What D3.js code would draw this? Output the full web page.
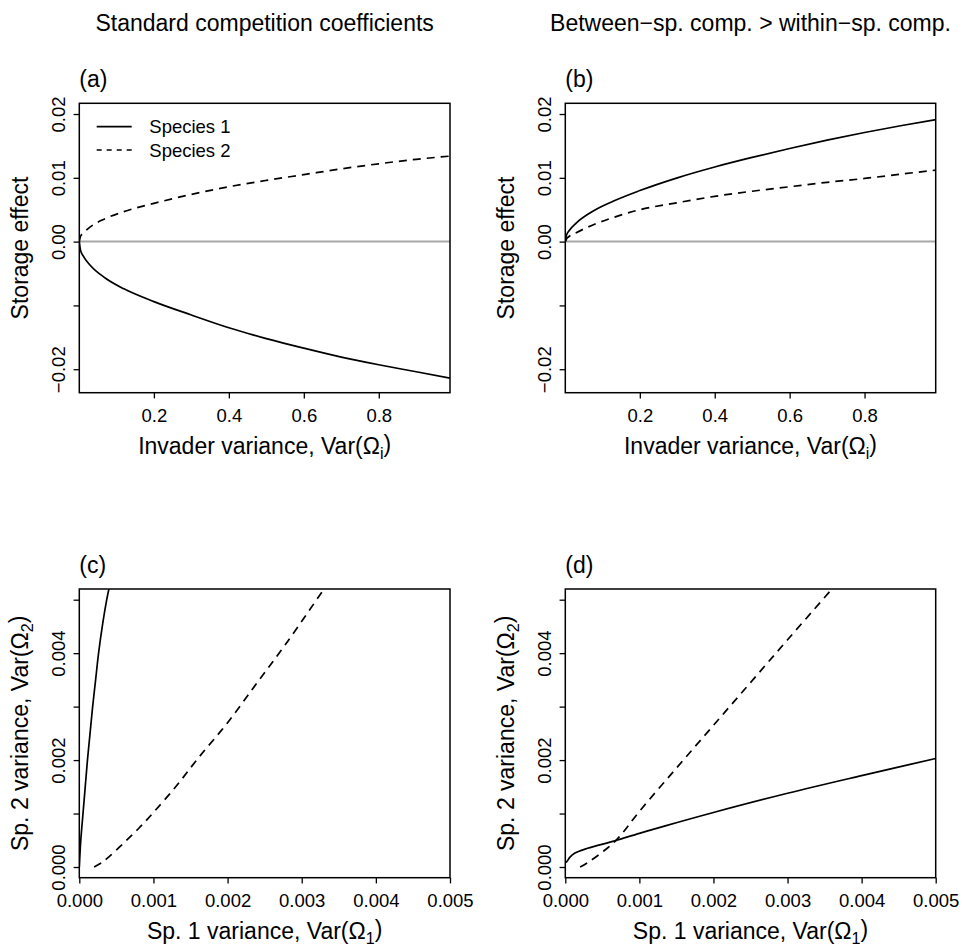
<!DOCTYPE html>
<html>
<head>
<meta charset="utf-8">
<script src="https://cdn.jsdelivr.net/npm/d3@7"></script>
<style>
  body { margin: 0; background: #fff; }
  text { font-family: "Liberation Sans", Arial, Helvetica, sans-serif; fill: #000; }
</style>
</head>
<body>
<svg id="fig" width="963" height="947"></svg>
<script>
// ---- data ----
// top row: storage effect vs invader variance
const invaderVar = [0.001, 0.004, 0.011, 0.03, 0.07, 0.12, 0.2, 0.3, 0.4, 0.5, 0.6, 0.7, 0.8, 0.9, 0.99];
const a_sp1 = [0, -0.0013, -0.0022, -0.0037, -0.0057, -0.0074, -0.0094, -0.0115, -0.0135, -0.0152, -0.0167, -0.0181, -0.0193, -0.0204, -0.0214];
const a_sp2 = [0, 0.0008, 0.0013, 0.0023, 0.0036, 0.0047, 0.0060, 0.0074, 0.0086, 0.0096, 0.0105, 0.0114, 0.0122, 0.0129, 0.0134];
const b_sp1 = [0, 0.0010, 0.0017, 0.0029, 0.0046, 0.0061, 0.0080, 0.0100, 0.0117, 0.0132, 0.0146, 0.0159, 0.0171, 0.0182, 0.0191];
const b_sp2 = [0, 0.0004, 0.0008, 0.0014, 0.0025, 0.0036, 0.0050, 0.0061, 0.0071, 0.0079, 0.0086, 0.0093, 0.0099, 0.0106, 0.0112];

// bottom row: sp.2 variance vs sp.1 variance
const c_sp1_x = [0, 0.00002, 0.00005, 0.00008, 0.00011, 0.000145, 0.00018, 0.00022, 0.00026, 0.00031, 0.00037, 0.00043];
const c_sp1_y = [0, 0.0005, 0.001, 0.0015, 0.002, 0.0025, 0.003, 0.0035, 0.004, 0.0045, 0.005, 0.0054];
const c_sp2_x = [0.0002, 0.0003, 0.0004, 0.0006, 0.0008, 0.001, 0.0013, 0.0016, 0.002, 0.0024, 0.0028, 0.0033];
const c_sp2_y = [0, 0.00008, 0.00019, 0.00045, 0.00072, 0.00102, 0.0015, 0.00203, 0.0027, 0.00345, 0.0042, 0.0052];
const d_sp1_x = [0, 0.00002, 0.00006, 0.00013, 0.0003, 0.00067, 0.001, 0.00135, 0.002, 0.003, 0.004, 0.005];
const d_sp1_y = [0.00008, 0.0001, 0.00018, 0.00026, 0.00035, 0.00049, 0.00063, 0.00077, 0.00102, 0.00138, 0.00171, 0.00203];
const d_sp2_x = [0.0002, 0.0003, 0.0005, 0.0007, 0.001, 0.0015, 0.002, 0.0025, 0.003, 0.0036];
const d_sp2_y = [0, 0.00008, 0.00028, 0.00052, 0.00104, 0.00185, 0.00265, 0.00345, 0.00425, 0.0052];

// ticks
const storageTicks = [-0.02, -0.01, 0, 0.01, 0.02];
const storageLabels = ["\u22120.02", "", "0.00", "0.01", "0.02"];
const invaderTicks = [0.2, 0.4, 0.6, 0.8];
const invaderLabels = ["0.2", "0.4", "0.6", "0.8"];
const varTicks = [0, 0.001, 0.002, 0.003, 0.004, 0.005];
const varLabelsX = ["0.000", "0.001", "0.002", "0.003", "0.004", "0.005"];
const varLabelsY = ["0.000", "", "0.002", "", "0.004", ""];

const colTitles = ["Standard competition coefficients", "Between\u2212sp. comp. > within\u2212sp. comp."];
const legendNames = ["Species 1", "Species 2"];

const svg = d3.select("#fig");
const tickFont = 18.5, labFont = 23;

const zip = (xs, ys) => xs.map((x, i) => [x, ys[i]]);

const panels = [
  { tag: "(a)", l: 79.3, t: 103.3, r: 450, b: 392.7, type: "storage", s1: zip(invaderVar, a_sp1), s2: zip(invaderVar, a_sp2), legend: true },
  { tag: "(b)", l: 565.3, t: 103.3, r: 935.7, b: 392.7, type: "storage", s1: zip(invaderVar, b_sp1), s2: zip(invaderVar, b_sp2) },
  { tag: "(c)", l: 79.3, t: 589, r: 450, b: 877.7, type: "var", s1: zip(c_sp1_x, c_sp1_y), s2: zip(c_sp2_x, c_sp2_y) },
  { tag: "(d)", l: 565.3, t: 589, r: 935.7, b: 877.7, type: "var", s1: zip(d_sp1_x, d_sp1_y), s2: zip(d_sp2_x, d_sp2_y) }
];

function addVarText(sel, pre, sub) {
  sel.append("tspan").text(pre + "Var(\u03A9");
  sel.append("tspan").attr("font-size", labFont * 0.7).attr("dy", "0.3em").text(sub);
  sel.append("tspan").attr("dy", "-0.3em").text(")");
}

panels.forEach((p, k) => {
  let x, y, xt, xl, yt, yl, curve;
  if (p.type === "storage") {
    x = d3.scaleLinear().domain([0.001, 0.99]).range([p.l, p.r]);
    y = d3.scaleLinear().domain([-0.022 - 0.00168, 0.02 + 0.00168]).range([p.b, p.t]);
    xt = invaderTicks; xl = invaderLabels; yt = storageTicks; yl = storageLabels;
    curve = d3.curveMonotoneX;
  } else {
    x = d3.scaleLinear().domain([0, 0.005]).range([p.l, p.r]);
    y = d3.scaleLinear().domain([-0.0002, 0.0052]).range([p.b, p.t]);
    xt = varTicks; xl = varLabelsX; yt = varTicks; yl = varLabelsY;
    curve = d3.curveCatmullRom;
  }

  const g = svg.append("g");
  const clipId = "clip" + k;
  svg.append("clipPath").attr("id", clipId)
    .append("rect").attr("x", p.l).attr("y", p.t).attr("width", p.r - p.l).attr("height", p.b - p.t);

  // x axis
  const xa = g.append("g").attr("transform", "translate(0," + p.b + ")")
    .call(d3.axisBottom(x).tickValues(xt).tickSize(5.7).tickPadding(10).tickFormat((d, i) => xl[i]));
  // y axis
  const ya = g.append("g").attr("transform", "translate(" + p.l + ",0)")
    .call(d3.axisLeft(y).tickValues(yt).tickSize(5.7).tickFormat((d, i) => yl[i]));
  [xa, ya].forEach(a => {
    a.select(".domain").remove();
    a.selectAll("line").attr("stroke", "#000").attr("stroke-width", 1.3);
    a.selectAll("text").style("font-size", tickFont + "px").attr("font-family", null);
  });
  ya.selectAll("text").attr("transform", "rotate(-90)").attr("x", 0).attr("y", -14)
    .attr("dy", 0).attr("text-anchor", "middle");

  const line = d3.line().x(d => x(d[0])).y(d => y(d[1])).curve(curve);
  const plot = g.append("g").attr("clip-path", "url(#" + clipId + ")");

  if (p.type === "storage") {
    plot.append("line").attr("x1", p.l).attr("x2", p.r).attr("y1", y(0)).attr("y2", y(0))
      .attr("stroke", "#a8a8a8").attr("stroke-width", 2);
  }
  plot.append("path").attr("d", line(p.s2)).attr("fill", "none").attr("stroke", "#000")
    .attr("stroke-width", 1.7).attr("stroke-dasharray", "8,6");
  plot.append("path").attr("d", line(p.s1)).attr("fill", "none").attr("stroke", "#000")
    .attr("stroke-width", 1.7);

  // box
  g.append("rect").attr("x", p.l).attr("y", p.t).attr("width", p.r - p.l).attr("height", p.b - p.t)
    .attr("fill", "none").attr("stroke", "#000").attr("stroke-width", 1.5);

  // panel tag
  g.append("text").attr("x", p.l).attr("y", p.t - 16).style("font-size", labFont + "px").text(p.tag);

  // axis labels
  const cx = (p.l + p.r) / 2, cy = (p.t + p.b) / 2;
  const xlab = g.append("text").attr("x", cx).attr("y", p.b + 61).attr("text-anchor", "middle")
    .style("font-size", labFont + "px");
  const ylab = g.append("text").attr("transform", "translate(" + (p.l - 51) + "," + cy + ") rotate(-90)")
    .attr("text-anchor", "middle").style("font-size", labFont + "px");
  if (p.type === "storage") {
    addVarText(xlab, "Invader variance, ", "i");
    ylab.text("Storage effect");
  } else {
    addVarText(xlab, "Sp. 1 variance, ", "1");
    addVarText(ylab, "Sp. 2 variance, ", "2");
  }

  if (p.legend) {
    legendNames.forEach((name, i) => {
      const ly = 126.7 + i * 23.3;
      g.append("line").attr("x1", 96.7).attr("x2", 131.7).attr("y1", ly).attr("y2", ly)
        .attr("stroke", "#000").attr("stroke-width", 1.7)
        .attr("stroke-dasharray", i === 1 ? "5,5" : null);
      g.append("text").attr("x", 149.3).attr("y", ly + 6.6).style("font-size", tickFont + "px").text(name);
    });
  }
  if (k < 2) {
    svg.append("text").attr("x", cx).attr("y", 31).attr("text-anchor", "middle")
      .style("font-size", labFont + "px").text(colTitles[k]);
  }
});
</script>
</body>
</html>
